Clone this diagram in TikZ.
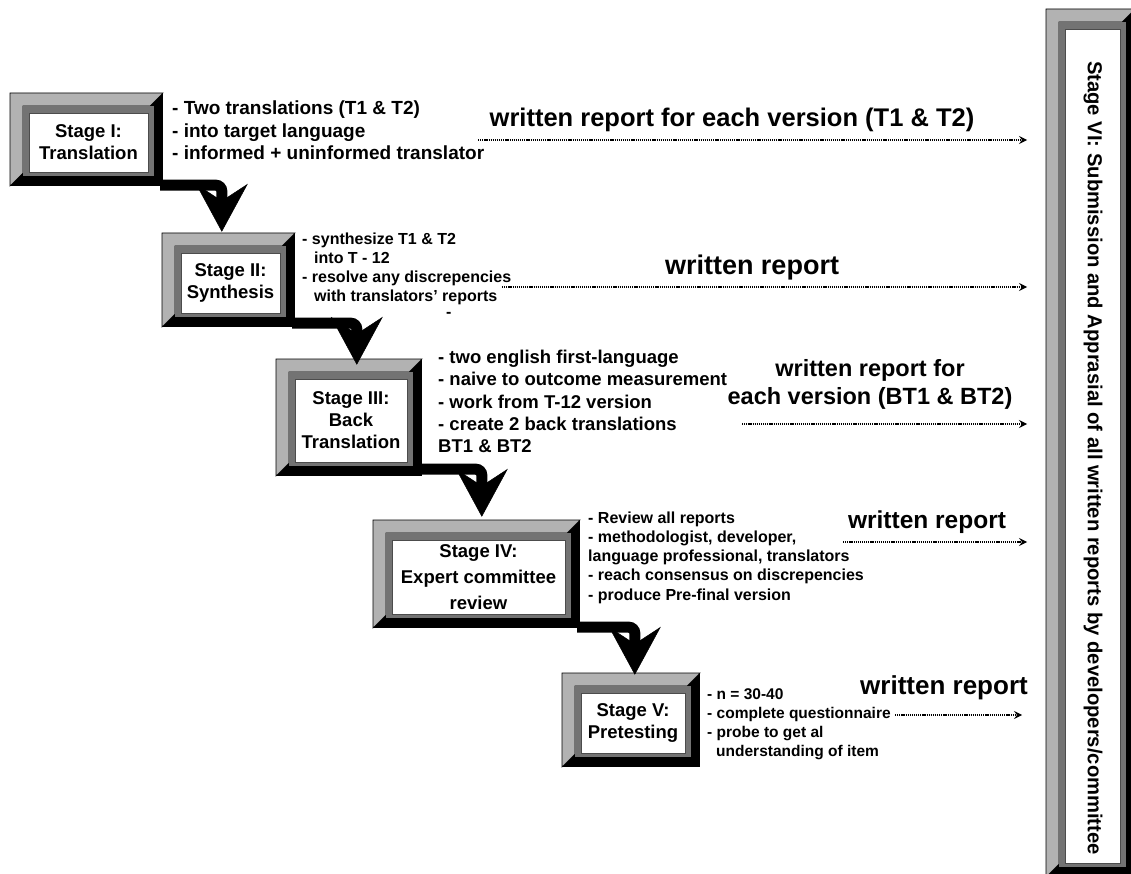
\documentclass[tikz,border=0pt]{standalone}
\usepackage{fontspec}
\setmainfont{Liberation Sans}
\usetikzlibrary{arrows.meta,fit,calc}
\definecolor{bevlight}{gray}{0.70}
\definecolor{bevdark}{gray}{0.45}
\tikzset{
  lbl/.style={font=\fontsize{18.5}{22}\selectfont\bfseries,align=center,inner sep=0pt},
  bulA/.style={anchor=west,align=left,inner sep=0pt,font=\fontsize{19}{22.5}\selectfont\bfseries},
  bulB/.style={anchor=west,align=left,inner sep=0pt,font=\fontsize{16}{19}\selectfont\bfseries},
  bulC/.style={anchor=west,align=left,inner sep=0pt,font=\fontsize{18.5}{22.3}\selectfont\bfseries},
  bulD/.style={anchor=west,align=left,inner sep=0pt,font=\fontsize{16}{19.3}\selectfont\bfseries},
  bulE/.style={anchor=west,align=left,inner sep=0pt,font=\fontsize{15.5}{19}\selectfont\bfseries},
  rep/.style={align=center,inner sep=0pt,font=\fontsize{23.5}{28}\selectfont\bfseries},
  reparr/.style={line width=1.1pt,dash pattern=on 1.2pt off 0.9pt,-{Stealth[length=8pt,width=8pt,inset=3pt]}},
  bigarr/.style={line width=11pt,rounded corners=6pt,-{Stealth[length=48pt,width=52pt,inset=17pt,line width=0.5pt]}}
}
\newcommand{\bevbox}[6]{%
  \fill[black] (#2,#3) rectangle (#4,#5);
  \filldraw[fill=bevlight,draw=black,line width=0.6pt] (#2,#3) -- (#4,#3) -- ({#4-13},{#3+13}) -- ({#2+13},{#3+13}) -- ({#2+13},{#5-13}) -- (#2,#5) -- cycle;
  \fill[bevdark] ({#2+13},{#3+13}) rectangle ({#4-9},{#5-10});
  \filldraw[fill=white,draw=black!70,line width=0.6pt] ({#2+19},{#3+20}) rectangle ({#4-15},{#5-14});
  \node[fit={(#2,#3) (#4,#5)},inner sep=0pt] (#1) {};
  \node[lbl] (#1t) at ({(#2+#4+4)/2},{(#3+#5+6)/2}) {#6};
}
\begin{document}
\begin{tikzpicture}[x=1pt,y=-1pt]
\useasboundingbox (0,0) rectangle (1131,874);
\fill[white] (0,0) rectangle (1131,874);

% stage boxes
\bevbox{s1}{10}{93}{163}{186}{Stage I:\\Translation}
\bevbox{s2}{162}{233}{295}{327}{Stage II:\\Synthesis}
\bevbox{s3}{276}{359}{422}{476}{Stage III:\\Back\\Translation}
\bevbox{s4}{373}{520}{580}{628}{Stage IV:\\[4pt]Expert committee\\[4pt]review}
\bevbox{s5}{562}{673}{700}{767}{Stage V:\\Pretesting}
\begin{scope}
\clip (0,0) rectangle (1131,874);
\bevbox{s6}{1046}{9}{1135}{877}{}
\end{scope}
\node[font=\fontsize{20.2}{24}\selectfont\bfseries,rotate=-90,inner sep=0pt] (s6t) at (1093,458)
  {Stage VI: Submission and Apprasial of all written reports by developers/committee};

% thick connectors
\draw[bigarr] ([xshift=-3pt,yshift=1pt]s1.south east) -| ([xshift=60pt,yshift=1pt]s2.north west);
\draw[bigarr] ([xshift=-3pt,yshift=4pt]s2.south east) -| ([xshift=81pt,yshift=-6pt]s3.north west);
\draw[bigarr] ([xshift=-3pt,yshift=7pt]s3.south east) -| ([xshift=109pt,yshift=3pt]s4.north west);
\draw[bigarr] ([xshift=-3pt,yshift=1pt]s4.south east) -| ([xshift=73pt,yshift=-2pt]s5.north west);

% bullet texts
\node[bulA] (b1) at (172,130.5) {- Two translations (T1 \& T2)\\- into target language\\- informed + uninformed translator};
\node[bulB] (b2) at (302,268.5) {- synthesize T1 \& T2\\\hspace*{12pt}into T - 12\\- resolve any discrepencies\\\hspace*{12pt}with translators’ reports};
\node[bulB] (b2d) at (446,315) {-};
\node[bulC] (b3) at (438,401.5) {- two english first-language\\- naive to outcome measurement\\- work from T-12 version\\- create 2 back translations\\BT1 \& BT2};
\node[bulD] (b4) at (588,557.5) {- Review all reports\\- methodologist, developer,\\language professional, translators\\- reach consensus on discrepencies\\- produce Pre-final version};
\node[bulE] (b5) at (707,724.5) {- n = 30-40\\- complete questionnaire\\- probe to get al\\\hspace*{9pt}understanding of item};

% report labels
\node[rep,font=\fontsize{25.5}{28}\selectfont\bfseries] (r1) at (732,120) {written report for each version (T1 \& T2)};
\node[rep,font=\fontsize{27}{28}\selectfont\bfseries] (r2) at (752,268) {written report};
\node[rep] (r3) at (870,384) {written report for\\each version (BT1 \& BT2)};
\node[rep,font=\fontsize{24.5}{28}\selectfont\bfseries] (r4) at (927,522) {written report};
\node[rep,font=\fontsize{26}{28}\selectfont\bfseries] (r5) at (944,688) {written report};

% dotted report arrows
\coordinate (a1s) at (478,140); \coordinate (a1e) at (1027,140);
\coordinate (a2s) at (502,287); \coordinate (a2e) at (1027,287);
\coordinate (a3s) at (742,424); \coordinate (a3e) at (1027,424);
\coordinate (a4s) at (843,542); \coordinate (a4e) at (1027,542);
\coordinate (a5s) at (895,715); \coordinate (a5e) at (1022,715);
\draw[reparr] (a1s) -- (a1e);
\draw[reparr] (a2s) -- (a2e);
\draw[reparr] (a3s) -- (a3e);
\draw[reparr] (a4s) -- (a4e);
\draw[reparr] (a5s) -- (a5e);
\end{tikzpicture}
\end{document}
